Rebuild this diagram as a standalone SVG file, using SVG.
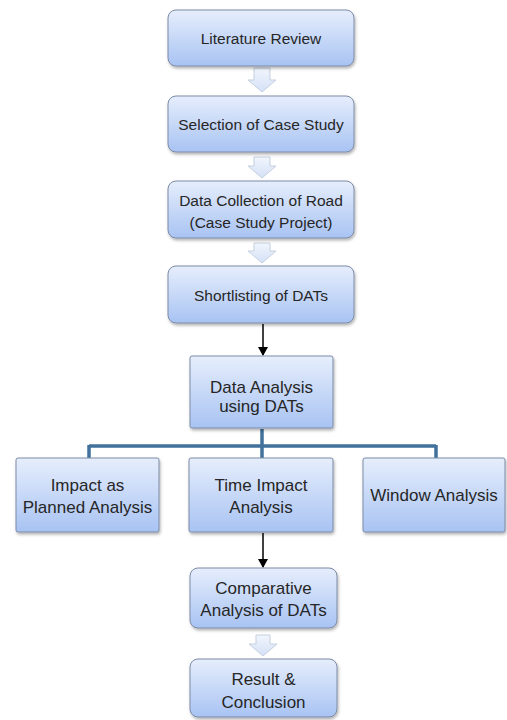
<svg xmlns="http://www.w3.org/2000/svg" width="507" height="720" viewBox="0 0 507 720">
<defs>
<linearGradient id="g" x1="0" y1="0" x2="0" y2="1">
<stop offset="0" stop-color="#e6eefc"/>
<stop offset="1" stop-color="#a8c3f3"/>
</linearGradient>
<linearGradient id="ga" x1="0" y1="0" x2="0" y2="1">
<stop offset="0" stop-color="#f2f6fd"/>
<stop offset="1" stop-color="#d3e0f6"/>
</linearGradient>
<filter id="sh" x="-10%" y="-10%" width="120%" height="130%">
<feDropShadow dx="1" dy="2" stdDeviation="1.5" flood-color="#000" flood-opacity="0.3"/>
</filter>
<marker id="ah" markerWidth="10" markerHeight="10" refX="8" refY="5" orient="auto" markerUnits="userSpaceOnUse">
<path d="M0,0 L9,5 L0,10 z" fill="#000"/>
</marker>
</defs>
<style>
.b{fill:url(#g);stroke:#7c8ba6;stroke-width:1;filter:url(#sh)}
.t{font-family:"Liberation Sans",Arial,sans-serif;fill:#262626;text-anchor:middle;dominant-baseline:central}
.s{font-size:15.5px}
.m{font-size:17px}
.ba{fill:url(#ga);stroke:#c5cfdf;stroke-width:1}
</style>
<g id="connectors">
<path class="ba" d="M254,68 L270,68 L270,80 L276,80 L262,92 L248,80 L254,80 z"/>
<path class="ba" d="M254,157 L270,157 L270,166 L276,166 L262,178 L248,166 L254,166 z"/>
<path class="ba" d="M254,243 L270,243 L270,251 L276,251 L262,263 L248,251 L254,251 z"/>
<line x1="263" y1="324" x2="263" y2="355" stroke="#000" stroke-width="1.5" marker-end="url(#ah)"/>
<path d="M262,429 L262,446 M89,446 L436,446 M89,445 L89,458 M262,446 L262,458 M436,445 L436,458" fill="none" stroke="#41719c" stroke-width="3.5"/>
<line x1="263" y1="533" x2="263" y2="567" stroke="#000" stroke-width="1.5" marker-end="url(#ah)"/>
<path class="ba" d="M256,635 L270,635 L270,644 L277,644 L263,656 L249,644 L256,644 z"/>
</g>
<g id="n1"><rect class="b" x="168" y="10" width="186" height="56" rx="8"/><text class="t s" x="261" y="38">Literature Review</text></g>
<g id="n2"><rect class="b" x="168" y="96" width="186" height="56" rx="8"/><text class="t s" x="261" y="124">Selection of Case Study</text></g>
<g id="n3"><rect class="b" x="168" y="181" width="186" height="57" rx="8"/><text class="t s" x="261" y="200">Data Collection of Road</text><text class="t s" x="261" y="222">(Case Study Project)</text></g>
<g id="n4"><rect class="b" x="168" y="266" width="186" height="57" rx="8"/><text class="t s" x="261" y="295">Shortlisting of DATs</text></g>
<g id="n5"><rect class="b" x="190" y="356" width="143" height="72" rx="2"/><text class="t m" x="261.5" y="387">Data Analysis</text><text class="t m" x="261.5" y="406">using DATs</text></g>
<g id="n6"><rect class="b" x="16" y="458" width="143" height="74" rx="2"/><text class="t m" x="87.5" y="485">Impact as</text><text class="t m" x="87.5" y="507">Planned Analysis</text></g>
<g id="n7"><rect class="b" x="189" y="458" width="144" height="74" rx="2"/><text class="t m" x="261" y="485">Time Impact</text><text class="t m" x="261" y="507">Analysis</text></g>
<g id="n8"><rect class="b" x="363" y="458" width="142" height="74" rx="2"/><text class="t m" x="434" y="495">Window Analysis</text></g>
<g id="n9"><rect class="b" x="190" y="568" width="147" height="60" rx="8"/><text class="t m" x="263.5" y="588">Comparative</text><text class="t m" x="263.5" y="610">Analysis of DATs</text></g>
<g id="n10"><rect class="b" x="190" y="659" width="147" height="58" rx="8"/><text class="t m" x="263.5" y="679">Result &amp;</text><text class="t m" x="263.5" y="702">Conclusion</text></g>
</svg>
